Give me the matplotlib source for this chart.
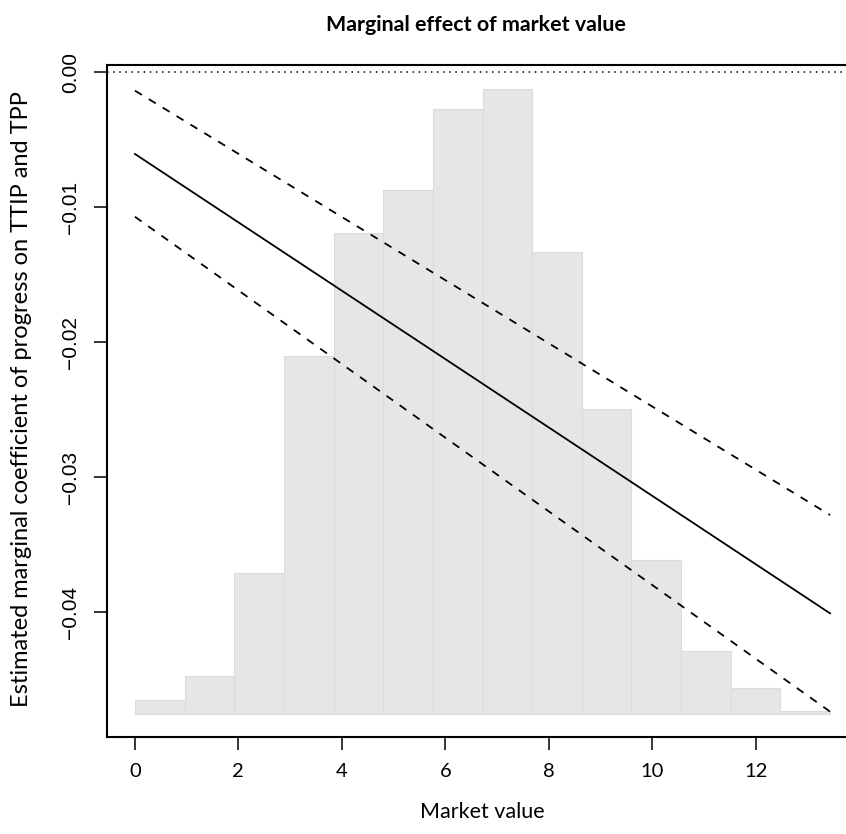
import numpy as np
import matplotlib
matplotlib.use("Agg")
import matplotlib.pyplot as plt

# marginal effect line and 95% band (read at the two ends of the x range)
x_ends = [0.0, 13.44]
effect = [-0.00607, -0.0401]
ci_upper = [-0.00138, -0.03282]
ci_lower = [-0.01072, -0.04738]

# histogram of market value in the background (share of obs, %)
bin_start = 0.0
bin_width = 0.96
bin_share = [0.37, 1.01, 3.71, 9.42, 12.67, 13.79, 15.92,
             16.44, 12.16, 8.02, 4.05, 1.66, 0.69, 0.09]

x_ticks = [0, 2, 4, 6, 8, 10, 12]
y_ticks = [0.00, -0.01, -0.02, -0.03, -0.04]

W, H = 846, 834
fig = plt.figure(figsize=(W / 100, H / 100), dpi=100)
ax = fig.add_axes([107 / W, 1 - 737 / H, (858 - 107) / W, (737 - 65) / H])

# histogram, rescaled onto the y axis
hist_bottom, hist_top = -0.04756, -0.00128
share = np.array(bin_share)
heights = share / share.max() * (hist_top - hist_bottom)
lefts = bin_start + bin_width * np.arange(len(share))
ax.bar(lefts, heights, width=bin_width, bottom=hist_bottom, align="edge",
       color="#e7e6e5", edgecolor="#dcdbda", linewidth=0.8, zorder=1)

ax.axhline(0, color="black", lw=1.1, linestyle=(0, (1, 3)), zorder=2)
ax.plot(x_ends, effect, color="black", lw=1.3, zorder=3)
ax.plot(x_ends, ci_upper, color="black", lw=1.3, linestyle=(0, (4.5, 4.5)), zorder=3)
ax.plot(x_ends, ci_lower, color="black", lw=1.3, linestyle=(0, (4.5, 4.5)), zorder=3)

ax.set_xlim(-0.54, 13.98)
ax.set_ylim(-0.04926, 0.00052)

ax.set_xticks(x_ticks)
ax.set_xticklabels([str(t) for t in x_ticks], fontfamily="Lato", fontsize=14.5)
ax.set_yticks(y_ticks)
ax.set_yticklabels(["0.00", "\u22120.01", "\u22120.02", "\u22120.03", "\u22120.04"],
                   fontfamily="Liberation Sans", fontsize=15, rotation=90, va="center")
ax.tick_params(axis="both", direction="out", length=9.4, width=1.1, color="black")
ax.tick_params(axis="x", pad=9)
ax.tick_params(axis="y", pad=10)
for s in ax.spines.values():
    s.set_linewidth(1.5)

fig.text(476 / W, 1 - 25 / H, "Marginal effect of market value", ha="center", va="center",
         fontfamily="Lato", fontweight="bold", fontsize=15.4)
fig.text(482 / W, 1 - 812 / H, "Market value", ha="center", va="center",
         fontfamily="Lato", fontsize=15.5)
fig.text(22 / W, 1 - 399 / H, "Estimated marginal coefficient of progress on TTIP and TPP",
         ha="center", va="center", rotation=90, fontfamily="Lato", fontsize=17)

fig.savefig("out.png", dpi=100)
